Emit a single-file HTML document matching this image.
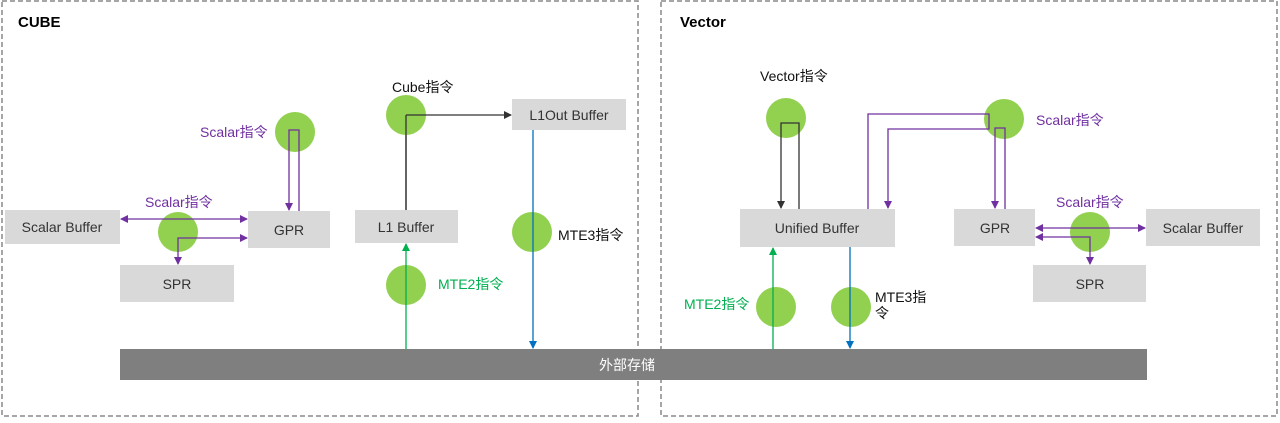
<!DOCTYPE html><html><head><meta charset="utf-8"><style>
body{margin:0;width:1280px;height:418px;background:#fff;overflow:hidden}
svg text{font-family:"Liberation Sans","Noto Sans CJK SC",sans-serif;font-size:14px}
</style></head><body>
<svg width="1280" height="418" xmlns="http://www.w3.org/2000/svg">
<defs>
<marker id="ak" markerWidth="8" markerHeight="8" refX="7" refY="4" orient="auto-start-reverse" markerUnits="userSpaceOnUse"><path d="M0,0L8,4L0,8z" fill="#333"/></marker>
<marker id="ap" markerWidth="8" markerHeight="8" refX="7" refY="4" orient="auto-start-reverse" markerUnits="userSpaceOnUse"><path d="M0,0L8,4L0,8z" fill="#7030a0"/></marker>
<marker id="ab" markerWidth="8" markerHeight="8" refX="7" refY="4" orient="auto-start-reverse" markerUnits="userSpaceOnUse"><path d="M0,0L8,4L0,8z" fill="#0070c0"/></marker>
<marker id="ag" markerWidth="8" markerHeight="8" refX="7" refY="4" orient="auto-start-reverse" markerUnits="userSpaceOnUse"><path d="M0,0L8,4L0,8z" fill="#00b050"/></marker>
</defs>
<rect x="2" y="1" width="636" height="415" fill="none" stroke="#888" stroke-width="1.5" stroke-dasharray="5,3"/>
<rect x="661" y="1" width="616" height="415" fill="none" stroke="#888" stroke-width="1.5" stroke-dasharray="5,3"/>
<text x="18" y="27" font-weight="bold" style="font-size:15px">CUBE</text>
<text x="680" y="27" font-weight="bold" style="font-size:15px">Vector</text>
<rect x="120" y="349" width="1027" height="31" fill="#7f7f7f"/>
<text x="627" y="370" fill="#fff" text-anchor="middle">外部存储</text>
<g fill="#d9d9d9">
<rect x="5" y="210" width="115" height="34"/><rect x="248" y="211" width="82" height="37"/><rect x="120" y="265" width="114" height="37"/>
<rect x="355" y="210" width="103" height="33"/><rect x="512" y="99" width="114" height="31"/>
<rect x="740" y="209" width="155" height="38"/><rect x="954" y="209" width="81" height="37"/>
<rect x="1146" y="209" width="114" height="37"/><rect x="1033" y="265" width="113" height="37"/>
</g>
<g fill="#333" text-anchor="middle">
<text x="62" y="232">Scalar Buffer</text><text x="289" y="235">GPR</text><text x="177" y="289">SPR</text>
<text x="406" y="232">L1 Buffer</text><text x="569" y="120">L1Out Buffer</text>
<text x="817" y="233">Unified Buffer</text><text x="995" y="233">GPR</text>
<text x="1203" y="233">Scalar Buffer</text><text x="1090" y="289">SPR</text>
</g>
<g fill="#92d050">
<circle cx="295" cy="132" r="20"/><circle cx="178" cy="232" r="20"/><circle cx="406" cy="115" r="20"/>
<circle cx="532" cy="232" r="20"/><circle cx="406" cy="285" r="20"/>
<circle cx="786" cy="118" r="20"/><circle cx="1004" cy="119" r="20"/><circle cx="1090" cy="232" r="20"/>
<circle cx="776" cy="307" r="20"/><circle cx="851" cy="307" r="20"/>
</g>
<g fill="none" stroke-width="1.3">
<path d="M289,210V130H299V211" stroke="#7030a0" marker-start="url(#ap)"/>
<path d="M121,219H247" stroke="#7030a0" marker-start="url(#ap)" marker-end="url(#ap)"/>
<path d="M247,238H178V264" stroke="#7030a0" marker-start="url(#ap)" marker-end="url(#ap)"/>
<path d="M406,210V135H406M406,115H511" stroke="#333" marker-end="url(#ak)"/>
<path d="M406,115V210" stroke="#333"/>
<path d="M533,130V348" stroke="#0070c0" marker-end="url(#ab)"/>
<path d="M406,349V244" stroke="#00b050" marker-end="url(#ag)"/>
<path d="M781,208V123H799V209" stroke="#333" marker-start="url(#ak)"/>
<path d="M868,209V114H989V129H888V208" stroke="#7030a0" marker-end="url(#ap)"/>
<path d="M995,208V128H1005V209" stroke="#7030a0" marker-start="url(#ap)"/>
<path d="M1036,228H1145" stroke="#7030a0" marker-start="url(#ap)" marker-end="url(#ap)"/>
<path d="M1036,237H1090V264" stroke="#7030a0" marker-start="url(#ap)" marker-end="url(#ap)"/>
<path d="M773,349V248" stroke="#00b050" marker-end="url(#ag)"/>
<path d="M850,247V348" stroke="#0070c0" marker-end="url(#ab)"/>
</g>
<g fill="#7030a0">
<text x="200" y="137">Scalar指令</text><text x="145" y="207">Scalar指令</text>
<text x="1036" y="125">Scalar指令</text><text x="1056" y="207">Scalar指令</text>
</g>
<text x="392" y="92" fill="#111">Cube指令</text>
<text x="558" y="240" fill="#111">MTE3指令</text>
<text x="438" y="289" fill="#00b050">MTE2指令</text>
<text x="760" y="81" fill="#111">Vector指令</text>
<text x="684" y="309" fill="#00b050">MTE2指令</text>
<text x="875" y="302" fill="#111">MTE3指</text><text x="875" y="318" fill="#111">令</text>
</svg>
</body></html>
